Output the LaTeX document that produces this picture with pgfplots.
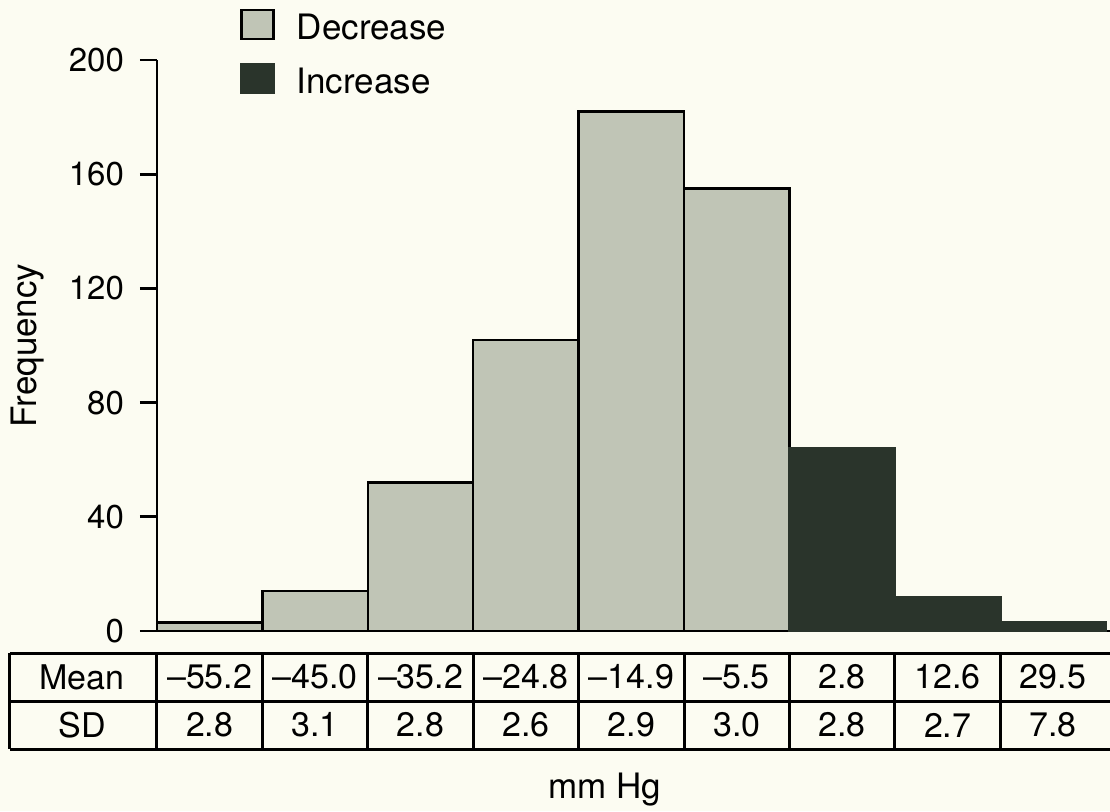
\documentclass[border=0pt]{standalone}
\usepackage{pgfplots}
\pgfplotsset{compat=1.18}
\usepackage{fontspec}
\setmainfont{TeX Gyre Heros}
\definecolor{bgc}{RGB}{252,252,242}
\definecolor{lightbar}{RGB}{192,197,182}
\definecolor{darkbar}{RGB}{42,52,43}
\begin{document}
\begin{tikzpicture}
\path[use as bounding box, fill=bgc] (-78.5pt,-90pt) rectangle (476.5pt,315.5pt);
\begin{axis}[
  at={(0pt,0pt)}, anchor=south west,
  scale only axis, width=476.5pt, height=285.5pt,
  xmin=-0.5, xmax=8.54, ymin=0, ymax=200,
  axis x line*=bottom, axis y line*=left,
  axis line style={line width=1.4pt, -},
  xtick=\empty,
  ytick={0,40,...,200},
  tick align=outside, major tick length=8.5pt,
  ytick style={line width=1.4pt, black},
  yticklabel style={font=\fontsize{16.5}{20}\selectfont, xshift=-4.5pt, /pgf/number format/assume math mode=true},
  ylabel={Frequency},
  ylabel style={font=\fontsize{17.5}{20}\selectfont, at={(axis description cs:-0.1354,0.5)}, anchor=center},
  xlabel={mm Hg},
  xlabel style={font=\fontsize{17.5}{20}\selectfont, at={(axis description cs:0.470,-0.2785)}, anchor=center},
  clip=false,
  legend style={at={(axis description cs:0.0871,1.0902)}, anchor=north west, draw=none, fill=none,
    inner sep=0pt, font=\fontsize{17.5}{20}\selectfont, row sep=10.3pt,
    nodes={inner sep=0pt}, column sep=11pt},
  legend cell align=left,
  legend image code/.code={\draw[#1] (0pt,-5.5pt) rectangle (16pt,9pt);},
]
\addplot[ybar, bar width=1, bar shift=0pt, fill=lightbar, draw=black, line width=1.2pt]
  coordinates {(0,3) (1,14) (2,52) (3,102) (4,182) (5,155)};
\addlegendentry{Decrease}
\addplot[ybar, bar width=1, bar shift=0pt, fill=darkbar, draw=darkbar, line width=1.2pt]
  coordinates {(6,64) (7,12) (8,3)};
\addlegendentry{Increase}
\end{axis}
% table below the axis
\begin{scope}[line width=1.5pt]
\draw (-73.5pt,-11pt) -- (476.5pt,-11pt);
\draw (-73.5pt,-35pt) -- (476.5pt,-35pt);
\draw (-73.5pt,-59pt) -- (476.5pt,-59pt);
\draw (-73.5pt,-11pt) -- (-73.5pt,-59pt);
\foreach \i in {0,...,8} {
  \draw ({\i*52.71pt},-11pt) -- ({\i*52.71pt},-59pt);
}
\end{scope}
\begin{scope}[every node/.style={font=\fontsize{17}{20}\selectfont, anchor=center, inner sep=0pt}]
\node at (-37.5pt,-23pt) {Mean};
\node at (-37.5pt,-47pt) {SD};
\foreach \m [count=\i from 0] in {--55.2,--45.0,--35.2,--24.8,--14.9,--5.5,2.8,12.6,29.5} {
  \node at ({(\i+0.5)*52.71pt},-23pt) {\m};
}
\foreach \s [count=\i from 0] in {2.8,3.1,2.8,2.6,2.9,3.0,2.8,2.7,7.8} {
  \node at ({(\i+0.5)*52.71pt},-47pt) {\s};
}
\end{scope}
\end{tikzpicture}
\end{document}
